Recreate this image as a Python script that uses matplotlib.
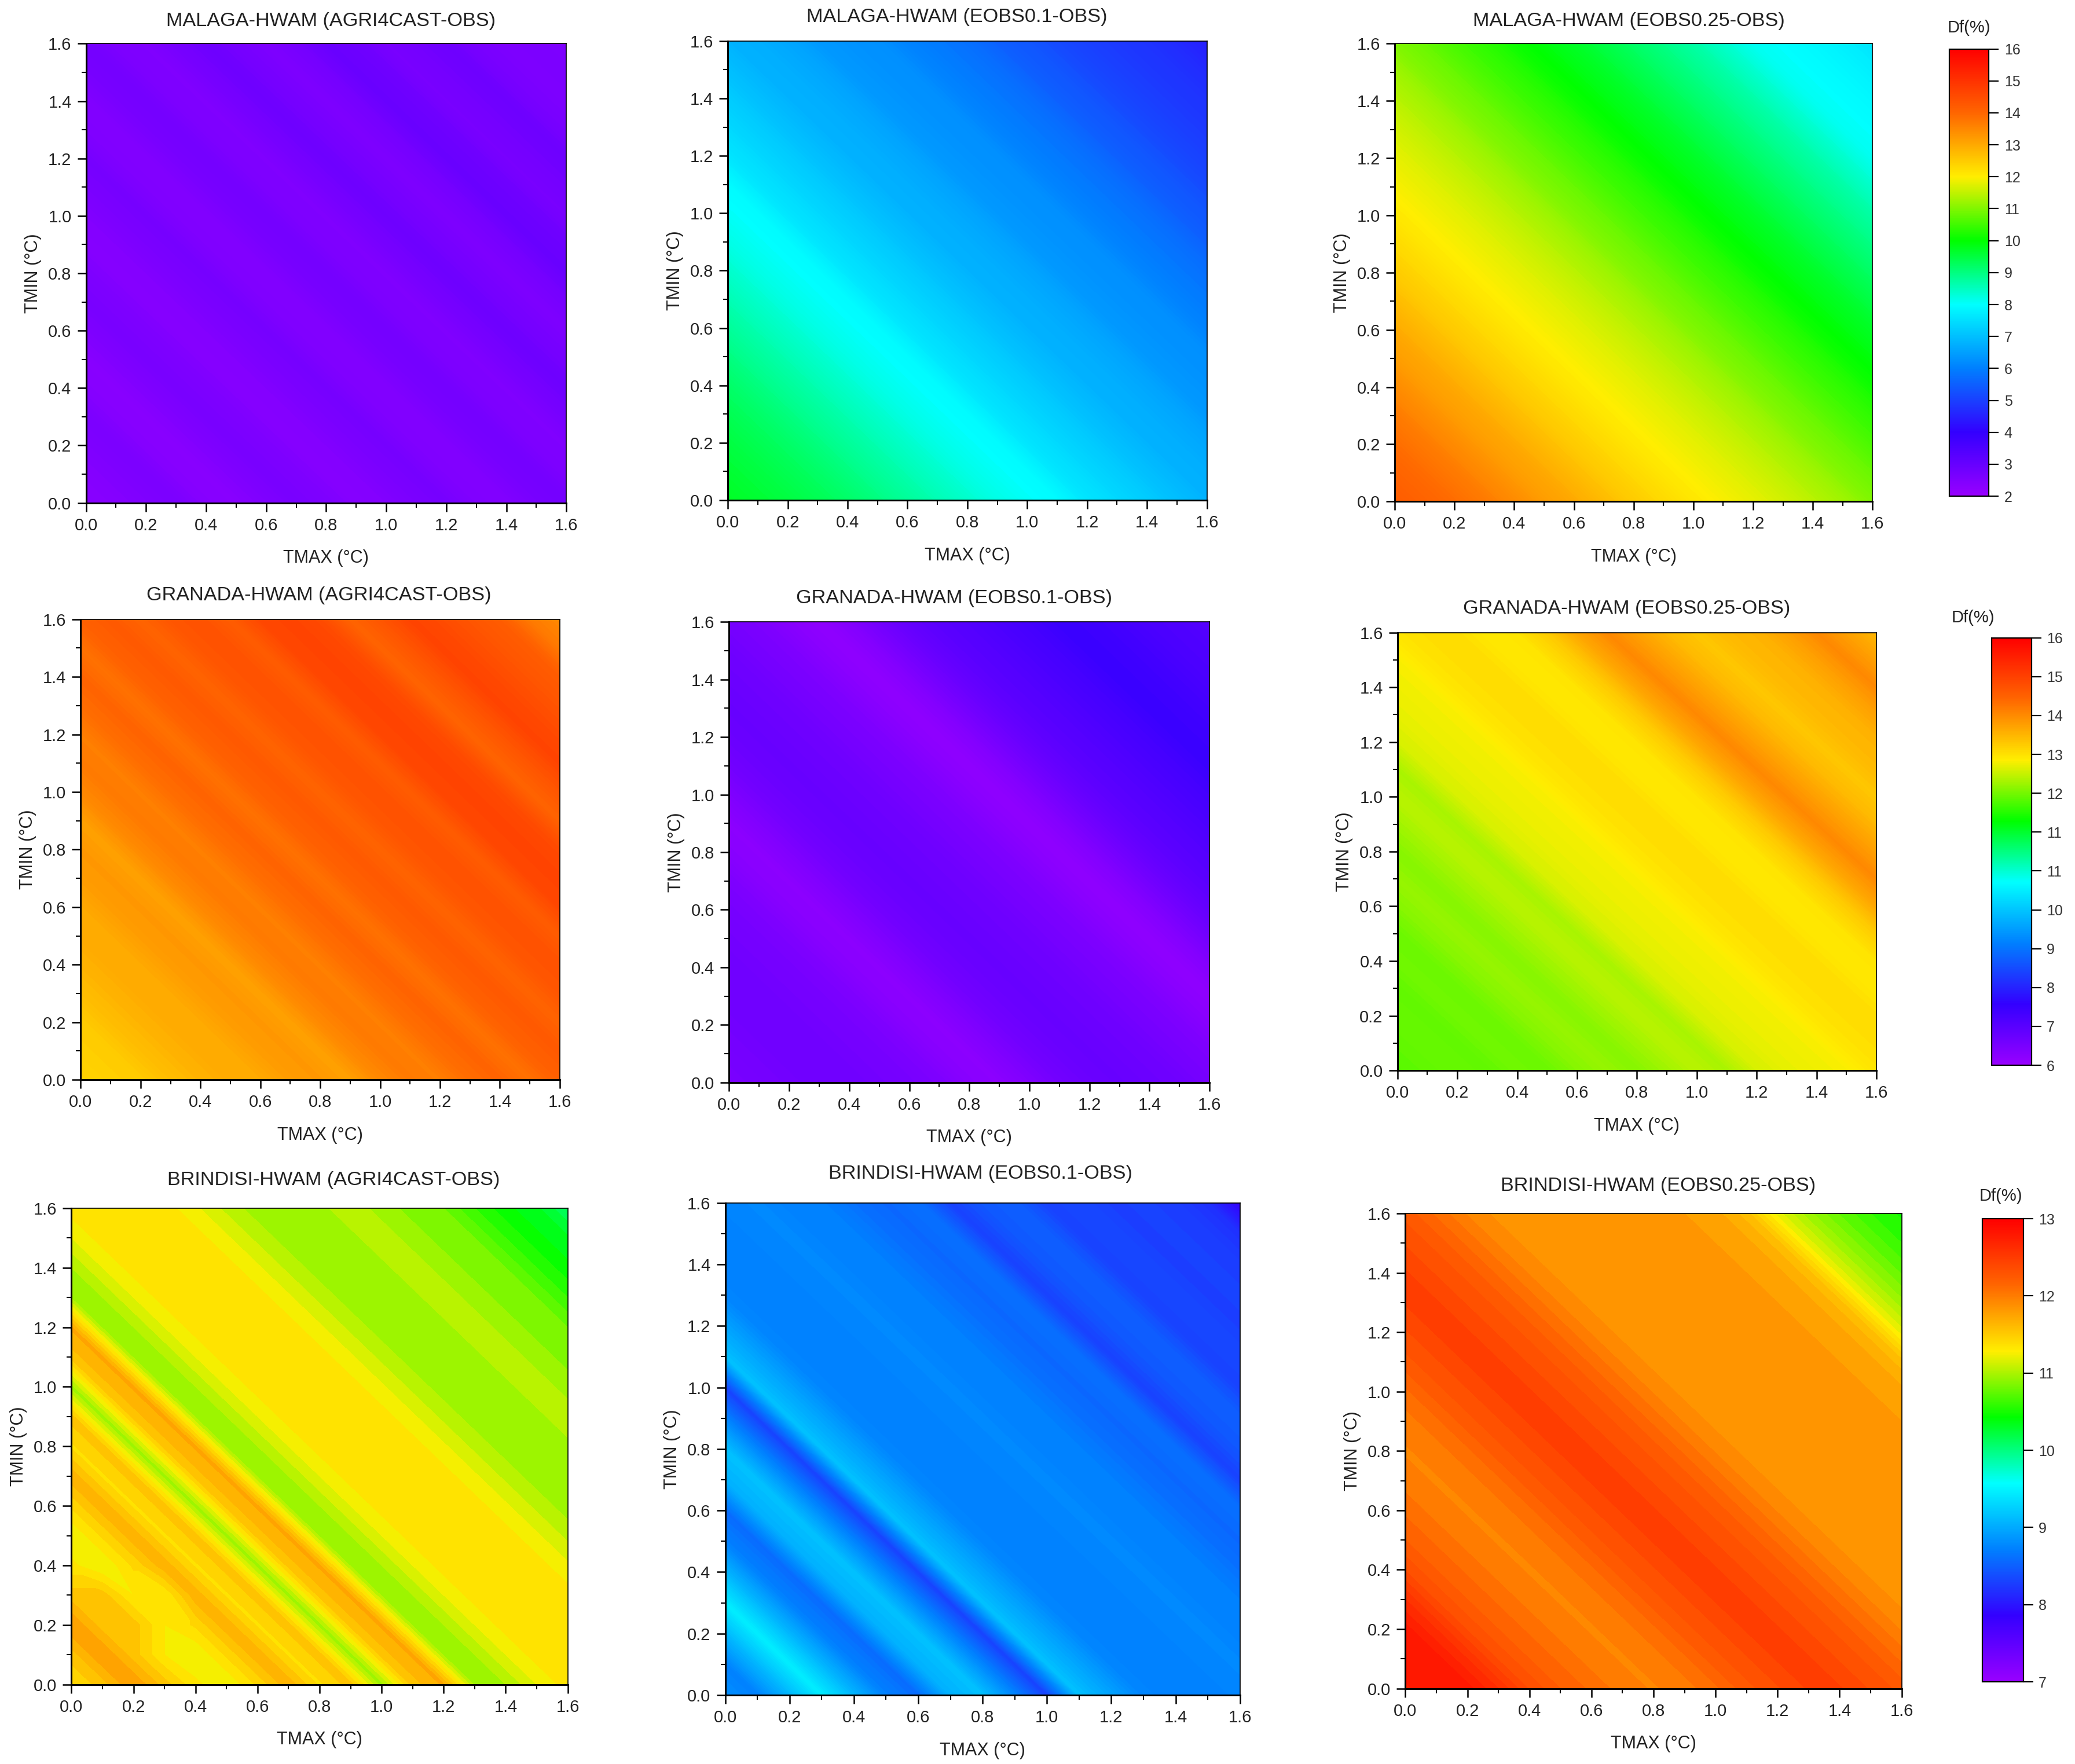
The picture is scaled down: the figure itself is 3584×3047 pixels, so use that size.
import numpy as np
import matplotlib
matplotlib.use("Agg")
import matplotlib.pyplot as plt
import matplotlib.tri as mtri
from matplotlib.cm import ScalarMappable
from matplotlib.colors import LinearSegmentedColormap, Normalize
from matplotlib.ticker import MultipleLocator

plt.rcParams['font.family'] = ['Liberation Sans', 'DejaVu Sans']

W, H = 3584, 3047
K = 3584 / 1568

# grid of the runs, 0.1 degree steps
tmax = [0.0, 0.1, 0.2, 0.3, 0.4, 0.5, 0.6, 0.7, 0.8, 0.9, 1.0, 1.1, 1.2, 1.3, 1.4, 1.5, 1.6]
tmin = [0.0, 0.1, 0.2, 0.3, 0.4, 0.5, 0.6, 0.7, 0.8, 0.9, 1.0, 1.1, 1.2, 1.3, 1.4, 1.5, 1.6]

# Df(%) for each step of tmax+tmin (0.0, 0.1 ... 3.2), the maps are striped along it
malaga_agri = [2.35, 2.4, 2.5, 2.6, 2.4, 2.35, 2.5, 2.65, 2.55, 2.4, 2.45, 2.6, 2.7, 2.5, 2.45, 2.65, 2.75,
               2.55, 2.5, 2.7, 2.85, 2.7, 2.55, 2.7, 2.95, 2.85, 2.65, 2.75, 2.85, 2.65, 2.55, 2.6, 2.5]
malaga_eobs01 = [9.7, 9.6, 9.5, 9.35, 9.2, 9.0, 8.8, 8.6, 8.4, 8.2, 8.05, 7.95, 7.6, 7.4, 7.2, 7.0, 6.8,
                 6.75, 6.6, 6.4, 6.3, 6.25, 6.05, 5.9, 5.75, 5.5, 5.35, 5.15, 5.0, 4.9, 4.8, 4.65, 4.5]
malaga_eobs025 = [14.2, 14.05, 13.9, 13.7, 13.45, 13.2, 13.0, 12.75, 12.5, 12.3, 12.1, 11.95, 11.8, 11.65, 11.45, 11.25, 11.0,
                  10.8, 10.55, 10.35, 10.1, 9.9, 9.7, 9.45, 9.2, 8.95, 8.7, 8.4, 8.1, 8.0, 7.9, 7.75, 7.6]

granada_agri = [13.4, 13.45, 13.5, 13.65, 13.75, 13.85, 13.85, 14.0, 14.05, 13.95, 14.2, 14.35, 14.3, 14.5, 14.6, 14.45, 14.65,
                14.75, 14.6, 14.8, 14.85, 14.7, 15.0, 15.05, 14.95, 14.6, 14.8, 15.05, 14.95, 14.8, 14.7, 14.35, 14.2]
granada_eobs01 = [6.45, 6.5, 6.55, 6.6, 6.6, 6.55, 6.5, 6.4, 6.25, 6.2, 6.35, 6.55, 6.65, 6.7, 6.65, 6.6, 6.5,
                  6.4, 6.25, 6.15, 6.3, 6.55, 6.75, 6.9, 7.0, 7.1, 7.2, 7.35, 7.3, 7.2, 7.1, 7.05, 6.95]
granada_eobs025 = [12.2, 12.25, 12.3, 12.25, 12.35, 12.3, 12.45, 12.55, 12.45, 12.6, 12.75, 12.65, 12.9, 13.0, 13.05, 13.1, 13.25,
                   13.3, 13.3, 13.2, 13.25, 13.5, 13.9, 14.2, 13.95, 13.7, 13.55, 13.7, 13.75, 13.95, 14.2, 13.95, 13.7]

brindisi_agri = [11.37, 11.47, 11.78, 11.3, 11.33, 11.2, 11.42, 11.67, 11.38, 11.55, 10.95, 11.55, 11.72, 10.98, 11.0, 11.2, 11.35,
                 11.37, 11.35, 11.35, 11.22, 11.07, 10.94, 10.94, 10.97, 11.07, 10.95, 10.86, 10.8, 10.6, 10.43, 10.32, 10.1]
brindisi_eobs01 = [8.82, 8.72, 9.08, 9.45, 9.08, 8.72, 8.58, 9.05, 9.15, 8.75, 8.3, 9.15, 8.95, 8.75, 8.72, 8.72, 8.75,
                   8.78, 8.72, 8.72, 8.62, 8.55, 8.62, 8.3, 8.45, 8.5, 8.3, 8.35, 8.28, 8.3, 8.27, 8.18, 7.85]
brindisi_eobs025 = [12.75, 12.8, 12.8, 12.6, 12.35, 12.2, 12.1, 12.0, 11.95, 12.0, 12.1, 12.25, 12.35, 12.45, 12.45, 12.35, 12.25,
                    12.1, 11.95, 11.85, 11.85, 11.85, 11.85, 11.85, 11.85, 11.8, 11.75, 11.6, 11.2, 10.95, 10.75, 10.6, 10.5]

# flat corner in the brindisi agri map, rows are tmin 0.0-0.3, columns tmax 0.0-0.3
brindisi_agri_corner = [[11.4, 11.55, 11.8, 11.55],
                        [11.55, 11.8, 11.55, 11.3],
                        [11.8, 11.55, 11.55, 11.3],
                        [11.55, 11.55, 11.3, 11.3]]

titles = ['MALAGA-HWAM (AGRI4CAST-OBS)', 'MALAGA-HWAM (EOBS0.1-OBS)', 'MALAGA-HWAM (EOBS0.25-OBS)',
          'GRANADA-HWAM (AGRI4CAST-OBS)', 'GRANADA-HWAM (EOBS0.1-OBS)', 'GRANADA-HWAM (EOBS0.25-OBS)',
          'BRINDISI-HWAM (AGRI4CAST-OBS)', 'BRINDISI-HWAM (EOBS0.1-OBS)', 'BRINDISI-HWAM (EOBS0.25-OBS)']
profiles = [malaga_agri, malaga_eobs01, malaga_eobs025,
            granada_agri, granada_eobs01, granada_eobs025,
            brindisi_agri, brindisi_eobs01, brindisi_eobs025]

row_ranges = [(2, 16), (6, 16), (7, 13)]
cbar_ticks = [[2, 3, 4, 5, 6, 7, 8, 9, 10, 11, 12, 13, 14, 15, 16],
              [6, 6.909, 7.818, 8.727, 9.636, 10.545, 11.455, 12.364, 13.273, 14.182, 15.091, 16],
              [7, 8, 9, 10, 11, 12, 13]]
cbar_labels = [['2', '3', '4', '5', '6', '7', '8', '9', '10', '11', '12', '13', '14', '15', '16'],
               ['6', '7', '8', '9', '10', '11', '11', '12', '13', '14', '15', '16'],
               ['7', '8', '9', '10', '11', '12', '13']]

# left, right, top, bottom of each box in the 1568 wide view
boxes = [(65, 428, 33, 380), (550, 912, 31, 378), (1054, 1415, 33, 379),
         (61, 423, 468, 816), (551, 914, 470, 818), (1056, 1418, 478, 809),
         (54, 429, 913, 1273), (548, 937, 909, 1281), (1062, 1437, 917, 1276)]
title_spots = [(250, 16), (723, 13), (1231, 16),
               (241, 450), (721, 452), (1229, 460),
               (252, 892), (741, 887), (1253, 896)]
cbar_boxes = [(1473, 1503, 37, 375), (1505, 1535, 482, 805), (1498, 1529, 921, 1271)]
df_spots = [(1488, 21), (1491, 467), (1512, 904)]
# contour step of each map, the brindisi agri one has wide flat bands
steps = [0.03, 0.03, 0.03, 0.03, 0.03, 0.03, 0.1, 0.03, 0.08]

rainbow = LinearSegmentedColormap.from_list('origin_rainbow', [
    '#9900ff', '#3300ff', '#0080ff', '#00ffff', '#00ff00', '#ffee00', '#ff6600', '#ff0000'], N=512)


def place(box):
    l, r, t, b = [v * K for v in box]
    return [l / W, 1 - b / H, (r - l) / W, (b - t) / H]


def spot_text(spot, text, size):
    fig.text(spot[0] * K / W, 1 - spot[1] * K / H, text, fontsize=size, color='#222222',
             ha='center', va='center')


# triangles cut along the stripes so the contours stay straight
n = len(tmax)
X, Y = np.meshgrid(tmax, tmin)
tris = []
for j in range(n - 1):
    for i in range(n - 1):
        a = j * n + i
        tris.append([a, a + 1, a + n])
        tris.append([a + 1, a + n + 1, a + n])
tri = mtri.Triangulation(X.ravel(), Y.ravel(), np.array(tris))

fig = plt.figure(figsize=(W / 100, H / 100), dpi=100)
fig.patch.set_facecolor('white')

for k in range(9):
    row = k // 3
    vmin, vmax = row_ranges[row]
    Z = np.array([[profiles[k][i + j] for i in range(n)] for j in range(n)])
    if k == 6:
        corner = np.array(brindisi_agri_corner)
        Z[:corner.shape[0], :corner.shape[1]] = corner

    ax = fig.add_axes(place(boxes[k]))
    levels = np.arange(vmin, vmax + steps[k] / 2, steps[k])
    ax.tricontourf(tri, Z.ravel(), levels=levels, cmap=rainbow, vmin=vmin, vmax=vmax)
    ax.set_xlim(0, 1.6)
    ax.set_ylim(0, 1.6)
    ax.xaxis.set_major_locator(MultipleLocator(0.2))
    ax.yaxis.set_major_locator(MultipleLocator(0.2))
    ax.xaxis.set_minor_locator(MultipleLocator(0.1))
    ax.yaxis.set_minor_locator(MultipleLocator(0.1))
    ax.xaxis.set_major_formatter('{x:.1f}')
    ax.yaxis.set_major_formatter('{x:.1f}')
    ax.tick_params(which='major', length=11, width=1.8, labelsize=21, pad=7, labelcolor='#222222')
    ax.tick_params(which='minor', length=6, width=1.5)
    for side, lw in [('left', 2.2), ('bottom', 2.2), ('top', 1.2), ('right', 1.2)]:
        ax.spines[side].set_linewidth(lw)
    ax.set_xlabel('TMAX (°C)', fontsize=22, labelpad=20, color='#222222')
    ax.set_ylabel('TMIN (°C)', fontsize=22, labelpad=8, color='#222222')
    spot_text(title_spots[k], titles[k], 24.7)

for row in range(3):
    vmin, vmax = row_ranges[row]
    cax = fig.add_axes(place(cbar_boxes[row]))
    sm = ScalarMappable(norm=Normalize(vmin, vmax), cmap=rainbow)
    cb = fig.colorbar(sm, cax=cax, ticks=cbar_ticks[row])
    cb.ax.set_yticklabels(cbar_labels[row])
    cb.ax.tick_params(length=12, width=1.6, labelsize=18, pad=7, labelcolor='#333333')
    cb.outline.set_linewidth(1.6)
    spot_text(df_spots[row], 'Df(%)', 21)

fig.savefig('out.png', dpi=100, facecolor='white')
